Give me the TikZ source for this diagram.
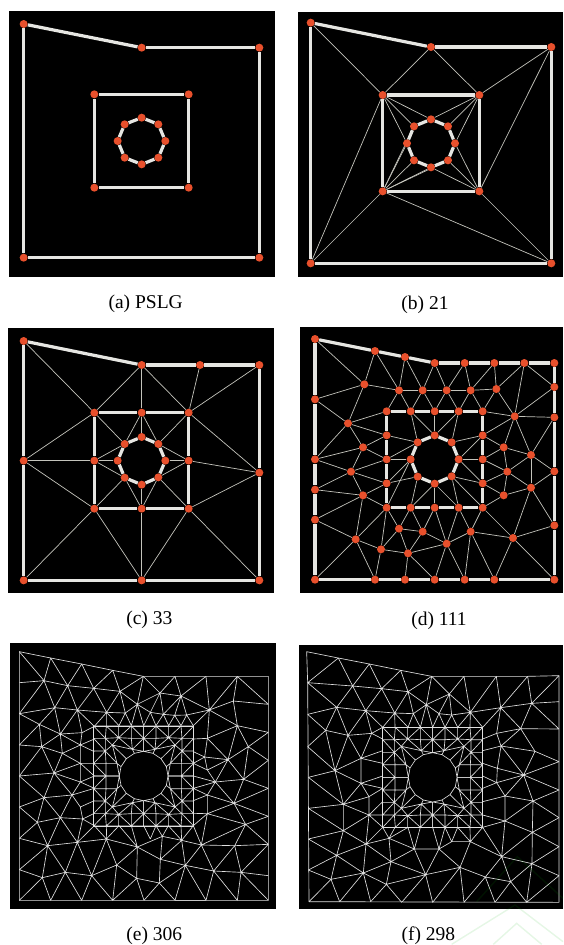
\documentclass[tikz,border=0pt]{standalone}
\usepackage{fontspec}
\setmainfont{Liberation Serif}
\pgfdeclarelayer{backlayer}
\pgfdeclarelayer{edgelayer}
\pgfsetlayers{backlayer,edgelayer,main}
\definecolor{vtxred}{HTML}{E8502C}
\definecolor{thickgrey}{HTML}{E6E6E2}
\definecolor{thingrey}{HTML}{C4C4BC}
\definecolor{meshgrey}{HTML}{E0E0E0}
\tikzset{
  vtx/.style={circle,fill=vtxred,draw=none,inner sep=0pt,minimum size=8pt},
  thickedge/.style={draw=thickgrey,line width=3.2pt},
  thinedge/.style={draw=thingrey,line width=.7pt},
  meshline/.style={draw=meshgrey,line width=.65pt,line join=round},
  panelbg/.style={fill=black},
  caption/.style={font=\fontsize{19.5}{22}\selectfont,text=black,inner sep=0pt},
  panel/.style={x=.33333pt,y=-.33333pt},
  watermark/.style={draw=green!70!black,opacity=.1,line width=1.4pt}
}
\newcommand{\mkverts}[2]{\foreach \n/\px/\py in {#2}{\node[vtx] (#1\n) at (\px,\py) {};}}
\newcommand{\mkedges}[3]{\foreach \u/\v in {#3}{\draw[#1] (#2\u) -- (#2\v);}}
\newcommand{\innerq}{%
  \draw[meshline] (0,-150)--(150,-150)--(150,0)
  (0,-150)--(0,-74) (37,-150)--(37,-113)--(34,-80) (75,-150)--(75,-115)--(94,-93)
  (112,-150)--(115,-113)--(115,-75)--(113,-38)--(113,0)--(73,0)
  (0,-113)--(37,-113)--(75,-115)--(115,-113)--(150,-113)
  (150,-75)--(115,-75) (150,-38)--(113,-38) (150,0)--(113,0)
  (113,-38)--(80,-38)--(73,0) (115,-75)--(94,-93)--(80,-38)--(68,-28)
  (94,-93)--(34,-80)--(0,-74) (34,-80)--(28,-68) (75,-115)--(34,-80)--(0,-113)
  (0,-113)--(37,-150)--(75,-115)--(112,-150) (115,-113)--(150,-150)
  (150,-113)--(115,-75)--(150,-38)--(113,0) (115,-113)--(94,-93) (115,-75)--(80,-38)
  (94,-93)--(52,-52)
  (0,-74)--(28,-68)--(52,-52)--(68,-28)--(73,0);
  \draw[meshgrey,line width=1pt] (0,-150)--(150,-150)--(150,0);
}
\begin{document}
\begin{tikzpicture}[x=1pt,y=-1pt]
\useasboundingbox (0,0) rectangle (563,945);
\begin{pgfonlayer}{backlayer}
\fill[white] (0,0) rectangle (563,945);
\end{pgfonlayer}

% ---------- (a)
\begin{scope}[panel]
\begin{pgfonlayer}{backlayer}\fill[panelbg] (27,33) rectangle (825,830);\end{pgfonlayer}
\mkverts{a}{o1/71/72,o2/425/143,o3/778/143,o4/778/773,o5/71/773,
  s1/283/283,s2/566/283,s3/566/563,s4/283/563,
  r1/425/353,r2/475/373,r3/496/423,r4/475/473,r5/425/493,r6/374/473,r7/353/423,r8/374/373}
\begin{pgfonlayer}{edgelayer}
\mkedges{thickedge}{a}{o1/o2,o2/o3,o3/o4,o4/o5,o5/o1,s1/s2,s2/s3,s3/s4,s4/s1,
  r1/r2,r2/r3,r3/r4,r4/r5,r5/r6,r6/r7,r7/r8,r8/r1}
\end{pgfonlayer}
\node[caption] (capa) at (437,912) {(a) PSLG};
\end{scope}

% ---------- (b)
\begin{scope}[panel,xshift=285pt]
\begin{pgfonlayer}{backlayer}\fill[panelbg] (39,37) rectangle (834,830);\end{pgfonlayer}
\mkverts{b}{o1/77/68,o2/438/141,o3/799/141,o4/799/790,o5/77/790,
  s1/293/285,s2/583/285,s3/583/574,s4/293/574,
  r1/438/358,r2/489/379,r3/510/430,r4/489/481,r5/438/502,r6/387/481,r7/366/430,r8/387/379}
\begin{pgfonlayer}{edgelayer}
\mkedges{thinedge}{b}{o1/s1,s1/o2,o2/s2,s2/o3,o3/s3,s3/o4,s4/o4,s4/o5,s1/o5,
  s1/r8,s1/r1,s1/r7,s2/r1,s2/r2,s2/r3,s3/r3,s3/r4,s3/r5,s4/r7,s4/r6,s4/r5,s4/r4,s4/r8}
\mkedges{thickedge}{b}{o1/o2,o2/o3,o3/o4,o4/o5,o5/o1,s1/s2,s2/s3,s3/s4,s4/s1,
  r1/r2,r2/r3,r3/r4,r4/r5,r5/r6,r6/r7,r7/r8,r8/r1}
\end{pgfonlayer}
\node[caption] (capb) at (420,914) {(b) 21};
\end{scope}

% ---------- (c)
\begin{scope}[panel,yshift=-320pt]
\begin{pgfonlayer}{backlayer}\fill[panelbg] (24,24) rectangle (822,818);\end{pgfonlayer}
\mkverts{c}{c1/71/63,c2/425/135,c3/600/135,c4/778/135,c5/778/458,c6/778/781,c7/425/781,c8/71/781,c9/71/422,
  s1/283/278,s12/425/278,s2/566/278,s23/566/422,s3/566/566,s34/425/566,s4/283/566,s41/283/422,
  r1/425/351,r2/475/372,r3/496/422,r4/475/472,r5/425/494,r6/374/473,r7/353/422,r8/374/372}
\begin{pgfonlayer}{edgelayer}
\mkedges{thinedge}{c}{c1/s1,s1/c2,c2/s12,c2/s2,c3/s2,c4/s2,s2/c5,s23/c5,s3/c5,s3/c6,s3/c7,s34/c7,s4/c7,s4/c8,s4/c9,c9/s41,c9/s1,
  s12/r1,s12/r2,s12/r8,s1/r8,s2/r2,s23/r3,s23/r2,s23/r4,s3/r4,s34/r4,s34/r5,s34/r6,s4/r6,s41/r6,s41/r7,s41/r8}
\mkedges{thickedge}{c}{c1/c2,c2/c3,c3/c4,c4/c5,c5/c6,c6/c7,c7/c8,c8/c9,c9/c1,
  s1/s12,s12/s2,s2/s23,s23/s3,s3/s34,s34/s4,s4/s41,s41/s1,
  r1/r2,r2/r3,r3/r4,r4/r5,r5/r6,r6/r7,r7/r8,r8/r1}
\end{pgfonlayer}
\node[caption] (capc) at (448,898) {(c) 33};
\end{scope}

% ---------- (d)
\begin{scope}[panel,xshift=285pt,yshift=-320pt]
\begin{pgfonlayer}{backlayer}\fill[panelbg] (45,21) rectangle (834,818);\end{pgfonlayer}
\mkverts{d}{o1/90/57,o2/270/93,o3/360/111,o4/449/129,o5/539/129,o6/628/129,o7/718/129,o8/808/129,o9/808/201,o10/808/292,o11/808/454,o12/808/616,o13/808/779,o14/628/779,o15/539/779,o16/449/779,o17/360/779,o18/270/779,o19/90/779,o20/90/599,o21/90/509,o22/90/418,o23/90/238,
  q1/305/274,q2/377/274,q3/449/274,q4/521/274,q5/593/274,q6/593/346,q7/593/418,q8/593/490,q9/593/563,q10/521/563,q11/449/563,q12/377/563,q13/305/563,q14/305/490,q15/305/418,q16/305/346,
  r1/449/346,r2/500/367,r3/521/418,r4/500/469,r5/449/491,r6/398/470,r7/377/418,r8/398/367,
  i1/238/193,i2/342/211,i3/413/211,i4/485/211,i5/557/211,i6/634/207,i7/689/289,i8/189/310,i9/234/382,i10/198/455,i11/234/526,i12/656/382,i13/738/405,i14/667/455,i15/738/503,i16/656/526,i17/684/654,i18/557/635,i19/485/671,i20/413/635,i21/342/626,i22/369/700,i23/288/688,i24/212/658}
\begin{pgfonlayer}{edgelayer}
\mkedges{thinedge}{d}{o1/i1,o2/i1,o2/i2,o3/i2,o3/i3,o4/i3,o4/i4,o5/i4,o5/i5,o6/i5,o6/i6,o7/i6,o7/i7,o7/o9,o9/i7,i6/i7,i5/i6,i2/i3,i3/i4,i4/i5,i1/i2,i1/o23,i1/i8,o23/i8,i8/o22,i8/q1,i8/q16,i8/i9,i9/o22,i9/q16,i9/q15,i9/i10,o22/i10,o21/i10,i10/q15,i10/q14,i10/i11,o21/i11,o20/i11,i11/q14,i11/q13,i11/i24,o20/i24,i24/o19,i24/q13,i24/o18,i24/i23,i23/o18,i23/q13,i23/i21,i23/i22,i22/o17,i22/i21,i22/i20,i22/i19,i22/o16,i21/q13,i21/q12,i21/i20,i20/q12,i20/q11,i20/i19,i19/q11,i19/q10,i19/i18,i19/o16,i19/o15,i18/q10,i18/q9,i18/o15,i18/o14,i18/i17,i17/q9,i17/o14,i17/o13,i17/o12,i16/q9,i16/q8,i16/i14,i16/i15,i15/i14,i15/i13,i15/o11,i15/i17,i15/o12,i14/i12,i14/q7,i14/q8,i14/i13,i13/i12,i13/i7,i13/o10,i13/o11,i12/i7,i12/q6,i12/q7,i7/o10,i7/q5,i7/q6,i6/q5,i5/q4,i5/q5,i4/q3,i4/q4,i3/q2,i3/q3,i2/q1,i2/q2,
  r1/q2,r1/q3,r1/q4,q2/r8,q16/r8,q15/r8,q15/r7,q14/r7,q14/r6,q13/r7,q12/r6,q12/r5,q11/r5,q10/r5,q10/r4,q9/r4,q8/r4,q8/r3,q7/r3,q6/r3,q6/r2,q4/r2,q1/q16}
\mkedges{thickedge}{d}{o1/o2,o2/o3,o3/o4,o4/o5,o5/o6,o6/o7,o7/o8,o8/o9,o9/o10,o10/o11,o11/o12,o12/o13,o13/o14,o14/o15,o15/o16,o16/o17,o17/o18,o18/o19,o19/o20,o20/o21,o21/o22,o22/o23,o23/o1,
  q1/q2,q2/q3,q3/q4,q4/q5,q5/q6,q6/q7,q7/q8,q8/q9,q9/q10,q10/q11,q11/q12,q12/q13,q13/q14,q14/q15,q15/q16,q16/q1,
  r1/r2,r2/r3,r3/r4,r4/r5,r5/r6,r6/r7,r7/r8,r8/r1}
\end{pgfonlayer}
\node[caption] (capd) at (462,901) {(d) 111};
\end{scope}

% ---------- (e)
\begin{scope}[panel,yshift=-635pt]
\fill[panelbg] (30,24) rectangle (828,822);
\draw[meshline] (58,50)--(152,69)--(245,87)--(338,106)--(430,124)--(525,124)--(618,124)--(712,124)--(805,124)--(805,796)--(58,796)--cycle;
\draw[meshline]
 (58,143)--(132,137)--(203,152)--(281,160)--(360,169)--(412,208)--(480,174)--(543,183)--(628,225)--(700,198)--(805,208)
 (58,50)--(132,137)--(152,69)--(203,152)--(245,87)--(281,160)--(338,106)--(360,169)--(430,124)--(412,208)
 (430,124)--(480,174)--(525,124)--(543,183)--(618,124)--(628,225)--(712,124)--(700,198) (712,124)--(805,208)
 (58,236)--(164,218)--(232,225)--(320,232)--(376,234)--(412,208)--(451,232)--(490,238)--(524,241)--(560,240)--(628,225)
 (58,236)--(132,137)--(164,218)--(203,152)--(232,225)--(281,160)--(320,232)--(360,169)--(376,234)
 (412,208)--(394,272) (451,232)--(480,174)--(490,238)--(543,183)--(524,241) (543,183)--(560,240)
 (628,225)--(580,272) (560,240)--(580,272) (560,240)--(543,272) (524,241)--(543,272) (524,241)--(506,272) (490,238)--(506,272) (490,238)--(468,272) (451,232)--(468,272) (451,232)--(431,272) (412,208)--(431,272) (376,234)--(394,272) (376,234)--(357,272) (320,232)--(357,272) (320,232)--(320,274) (320,232)--(283,274) (232,225)--(283,274) (232,225)--(246,293)
 (58,236)--(118,268)--(164,218)--(181,297)--(232,225) (118,268)--(181,297)--(246,293)--(283,274)
 (118,268)--(58,330)--(125,335)--(118,268) (125,335)--(181,297) (125,335)--(187,355)--(181,297)--(241,330)--(246,293)
 (187,355)--(241,330)--(283,312) (187,355)--(241,385) (125,335)--(162,414)--(187,355) (162,414)--(241,385)--(241,330)
 (58,423)--(125,335) (58,423)--(162,414) (162,414)--(241,441)--(241,385) (162,414)--(132,488)--(58,423)
 (132,488)--(216,480)--(162,414) (58,516)--(132,488) (216,480)--(241,441) (132,488)--(181,548)--(216,480)
 (58,516)--(112,562)--(132,488) (112,562)--(181,548) (58,610)--(112,562) (58,610)--(143,632)--(112,562)
 (143,632)--(181,548)--(232,622)--(143,632) (181,548)--(248,552)--(241,516)--(216,480) (248,552)--(232,622) (248,552)--(283,572)
 (232,622)--(283,572)--(319,612)--(232,622) (58,704)--(143,632)--(127,728)--(58,704)
 (127,728)--(196,712)--(143,632) (196,712)--(232,622)--(275,722)--(196,712) (275,722)--(319,612)--(350,690)--(275,722)
 (350,690)--(412,636)--(319,612) (58,796)--(127,728)--(152,796)--(196,712)--(245,796)--(275,722)--(338,796)--(350,690)--(410,730)--(338,796)
 (410,730)--(432,796)--(478,744)--(410,730) (478,744)--(525,796)--(556,691)--(478,744)
 (410,730)--(412,636)--(481,673)--(478,744) (481,673)--(556,691)--(641,708)--(618,796)--(556,691)
 (618,796)--(525,796) (641,708)--(723,712)--(712,796)--(641,708) (723,712)--(805,722) (723,712)--(805,796) (723,712)--(805,628)
 (723,712)--(704,632)--(641,708)--(604,630)--(556,691) (604,630)--(704,632)--(805,628) (704,632)--(737,568)--(805,628)
 (737,568)--(805,544) (737,568)--(702,505)--(805,544) (702,505)--(805,460) (702,505)--(731,433)--(805,460) (731,433)--(805,376)
 (731,433)--(684,374)--(745,335)--(805,376) (745,335)--(731,433) (745,335)--(805,292) (745,335)--(712,272)--(684,374)
 (684,374)--(622,310) (712,272)--(622,310) (628,225)--(622,310) (712,272)--(628,225) (712,272)--(805,292) (700,198)--(712,272)
 (646,441)--(731,433) (646,441)--(702,505) (646,441)--(684,374) (646,441)--(622,405)--(684,374)--(614,366)--(622,405) (614,366)--(622,310)
 (622,480)--(646,441) (622,480)--(702,505)--(622,536)--(622,480) (622,536)--(737,568)--(604,630)--(622,536)
 (604,630)--(580,572)--(622,536) (545,616)--(604,630) (545,616)--(580,572) (545,616)--(556,691) (545,616)--(487,604)--(481,673)--(545,616)
 (487,604)--(412,636) (412,636)--(394,572) (412,636)--(357,572) (487,604)--(468,572) (487,604)--(505,572) (451,612)--(431,572) (451,612)--(468,572)
 (319,612)--(320,572) (319,612)--(357,572) (545,616)--(543,572) (545,616)--(505,572)
 (241,330)--(283,350) (241,385)--(283,385) (241,385)--(283,423) (241,441)--(283,423) (241,441)--(283,460) (216,480)--(283,460) (241,516)--(283,497) (248,552)--(283,535)
 (580,312)--(622,310) (580,350)--(614,366) (580,385)--(614,366) (580,385)--(622,405) (580,423)--(646,441) (580,460)--(622,480) (580,460)--(646,441) (580,497)--(622,480) (580,535)--(622,536) (580,572)--(604,630);
\foreach \sx/\sy in {1/1,-1/1,1/-1,-1/-1}{
 \begin{scope}[shift={(431,423)},xscale=\sx,yscale=\sy]\innerq\end{scope}}
\node[caption] (cape) at (463,903) {(e) 306};
\end{scope}

% ---------- (f)
\begin{scope}[panel,xshift=285pt,yshift=-635pt]
\fill[panelbg] (42,30) rectangle (834,822);
\draw[meshline] (65,50)--(160,69)--(253,87)--(347,106)--(440,124)--(537,124)--(634,124)--(728,124)--(822,122)--(822,802)--(72,800)--(68,143)--cycle;
\draw[meshline]
 (68,143)--(203,153)--(290,161)--(369,170)--(424,209)--(493,177)--(556,232)--(647,218)--(740,205)--(822,200)
 (160,69)--(68,143) (160,69)--(203,153)--(253,87)--(290,161)--(347,106)--(369,170)--(440,124)--(424,209)
 (440,124)--(493,177)--(537,124)--(556,232)--(634,124)--(647,218)--(728,124)--(740,205)--(822,122)
 (68,143)--(155,217)--(203,153)--(242,227)--(290,161)--(329,234)--(369,170)--(385,236)
 (68,238)--(155,217)--(242,227)--(329,234)--(385,236)--(424,209)--(462,236)--(500,240)--(556,232)
 (493,177)--(500,240) (493,177)--(462,236)
 (68,238)--(122,286)--(155,217)--(189,301)--(242,227)--(260,295)--(293,277) (242,227)--(293,277) (329,234)--(293,277) (329,234)--(330,277) (329,234)--(369,277) (385,236)--(369,277) (385,236)--(406,277) (424,209)--(406,277) (424,209)--(443,277) (462,236)--(443,277) (462,236)--(480,277) (500,240)--(480,277) (500,240)--(518,277) (556,232)--(518,277) (556,232)--(555,277) (556,232)--(593,277) (647,218)--(593,277) (647,218)--(635,295) (647,218)--(707,281) (740,205)--(707,281) (740,205)--(822,282)
 (122,286)--(189,301)--(260,295)--(293,312) (68,335)--(122,286)--(150,407)--(189,301) (68,335)--(150,407) (189,301)--(228,370)--(150,407) (228,370)--(260,295) (228,370)--(293,347)
 (70,427)--(150,407)--(228,445)--(228,370) (150,407)--(175,508)--(228,445) (70,520)--(175,508) (70,427)--(175,508)
 (228,445)--(293,423) (228,445)--(293,460) (228,370)--(293,385) (228,445)--(252,485)--(252,540) (175,508)--(252,485) (252,485)--(293,460) (252,540)--(293,500) (252,540)--(293,540) (252,540)--(293,577) (175,508)--(252,540)
 (70,520)--(175,587)--(175,508) (175,587)--(252,540) (175,587)--(243,627)--(252,540) (70,612)--(175,587) (70,612)--(155,661)--(175,587) (155,661)--(243,627)
 (243,627)--(312,610)--(293,577) (243,627)--(293,577) (70,705)--(155,661) (70,705)--(138,733)--(155,661)--(235,714)--(138,733)
 (235,714)--(243,627)--(318,680)--(235,714) (318,680)--(312,610) (318,680)--(388,642)--(312,610) (304,748)--(318,680) (304,748)--(235,714) (304,748)--(422,719)--(318,680)
 (304,748)--(350,802)--(422,719)--(443,802)--(525,697)--(422,719)--(388,642)--(462,642)--(422,719)
 (72,800)--(138,733)--(164,800)--(235,714)--(257,800)--(304,748)
 (525,697)--(537,802)--(601,726)--(525,697) (601,726)--(630,802)--(677,740)--(601,726) (677,740)--(725,802)--(741,686)--(677,740)
 (741,686)--(822,722) (725,802)--(822,722) (741,686)--(822,635) (741,686)--(650,665)--(677,740) (650,665)--(601,726) (650,665)--(556,620)--(525,697) (525,697)--(462,642)
 (556,620)--(500,620)--(462,642) (556,620)--(593,577) (650,665)--(593,577) (650,665)--(742,592)--(741,686) (742,592)--(822,635) (742,592)--(822,548)
 (742,592)--(660,558)--(650,665) (660,558)--(744,498)--(742,592) (744,498)--(822,548) (744,498)--(822,465) (744,498)--(660,483)--(660,558) (660,558)--(593,577) (660,558)--(593,540) (660,483)--(593,500)
 (660,483)--(635,443)--(716,420)--(660,483) (716,420)--(744,498) (716,420)--(822,465) (716,420)--(822,380) (716,420)--(750,349)--(822,380) (750,349)--(707,281)--(822,282) (750,349)--(648,333)--(707,281) (648,333)--(716,420) (648,333)--(637,400)--(716,420) (637,400)--(635,443)
 (635,295)--(648,333) (635,295)--(707,281) (635,295)--(593,312) (648,333)--(593,347) (637,400)--(593,385) (635,443)--(593,423) (635,443)--(593,460)
 (462,642)--(443,577) (388,642)--(406,577) (388,642)--(369,577) (462,642)--(480,577) (312,610)--(330,577) (312,610)--(369,577) (500,620)--(480,577) (500,620)--(518,577) (556,620)--(518,577) (556,620)--(555,577);
\foreach \sx/\sy in {1/1,-1/1,1/-1,-1/-1}{
 \begin{scope}[shift={(443,427)},xscale=\sx,yscale=\sy]\innerq\end{scope}}
\draw[watermark] (575,800)--(697,665)--(834,790);
\draw[watermark] (500,928)--(690,810)--(834,920);
\draw[watermark] (625,928)--(695,865)--(770,928);
\node[caption] (capf) at (430,903) {(f) 298};
\end{scope}
\end{tikzpicture}
\end{document}
